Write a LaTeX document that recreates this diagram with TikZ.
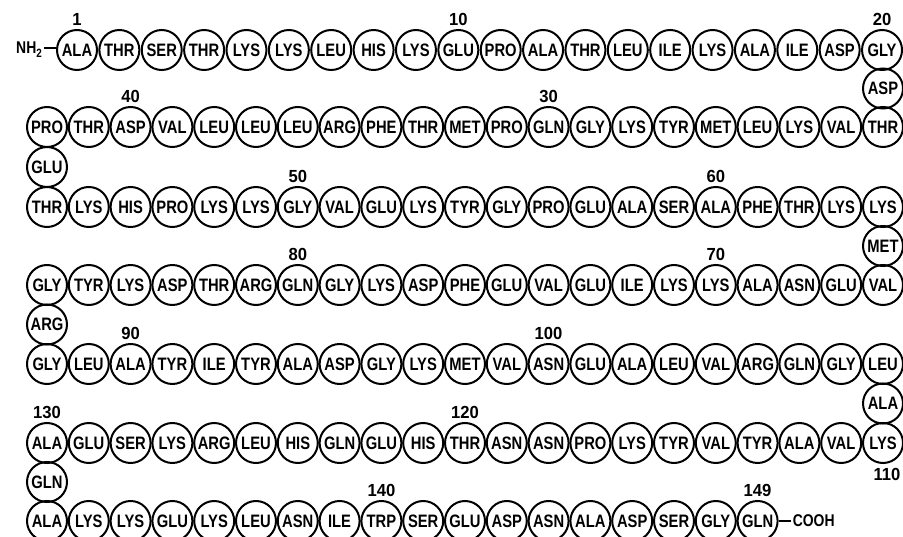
\documentclass[tikz,border=0pt]{standalone}
\usepackage{fontspec}
\setmainfont{Liberation Sans}
\newfontfamily\resfont[FakeStretch=0.82]{Liberation Sans}
\newfontfamily\numfont[FakeStretch=0.95]{Liberation Sans}
\begin{document}
\begin{tikzpicture}[x=1pt,y=-1pt,
  res/.style={circle,draw,line width=2pt,minimum size=40pt,inner sep=0pt,font=\resfont\bfseries\fontsize{18}{18}\selectfont},
  num/.style={font=\numfont\bfseries\fontsize{17.5}{18}\selectfont,inner sep=0pt},
  term/.style={font=\resfont\bfseries\fontsize{17}{17}\selectfont,inner sep=0pt}]
\useasboundingbox (0,0) rectangle (903,537);
% row 1 : residues 1-20
\foreach \n [count=\k from 0] in {ALA,THR,SER,THR,LYS,LYS,LEU,HIS,LYS,GLU,PRO,ALA,THR,LEU,ILE,LYS,ALA,ILE,ASP,GLY}{
  \pgfmathtruncatemacro\rn{1+\k}
  \node[res] (r\rn) at ({77+42.37*\k},50) {\n};}
\node[res] (r21) at (883,88.5) {ASP};
% row 2 : residues 42..22 (left to right)
\foreach \n [count=\k from 0] in {PRO,THR,ASP,VAL,LEU,LEU,LEU,ARG,PHE,THR,MET,PRO,GLN,GLY,LYS,TYR,MET,LEU,LYS,VAL,THR}{
  \pgfmathtruncatemacro\rn{42-\k}
  \node[res] (r\rn) at ({47+41.8*\k},127) {\n};}
\node[res] (r43) at (47,167) {GLU};
% row 3 : residues 44..64
\foreach \n [count=\k from 0] in {THR,LYS,HIS,PRO,LYS,LYS,GLY,VAL,GLU,LYS,TYR,GLY,PRO,GLU,ALA,SER,ALA,PHE,THR,LYS,LYS}{
  \pgfmathtruncatemacro\rn{44+\k}
  \node[res] (r\rn) at ({47+41.8*\k},207) {\n};}
\node[res] (r65) at (883,246) {MET};
% row 4 : residues 86..66
\foreach \n [count=\k from 0] in {GLY,TYR,LYS,ASP,THR,ARG,GLN,GLY,LYS,ASP,PHE,GLU,VAL,GLU,ILE,LYS,LYS,ALA,ASN,GLU,VAL}{
  \pgfmathtruncatemacro\rn{86-\k}
  \node[res] (r\rn) at ({47+41.8*\k},285) {\n};}
\node[res] (r87) at (47,324.5) {ARG};
% row 5 : residues 88..108
\foreach \n [count=\k from 0] in {GLY,LEU,ALA,TYR,ILE,TYR,ALA,ASP,GLY,LYS,MET,VAL,ASN,GLU,ALA,LEU,VAL,ARG,GLN,GLY,LEU}{
  \pgfmathtruncatemacro\rn{88+\k}
  \node[res] (r\rn) at ({47+41.8*\k},364) {\n};}
\node[res] (r109) at (883,403.5) {ALA};
% row 6 : residues 130..110
\foreach \n [count=\k from 0] in {ALA,GLU,SER,LYS,ARG,LEU,HIS,GLN,GLU,HIS,THR,ASN,ASN,PRO,LYS,TYR,VAL,TYR,ALA,VAL,LYS}{
  \pgfmathtruncatemacro\rn{130-\k}
  \node[res] (r\rn) at ({47+41.8*\k},443) {\n};}
\node[res] (r131) at (47,482) {GLN};
% row 7 : residues 132..149
\foreach \n [count=\k from 0] in {ALA,LYS,LYS,GLU,LYS,LEU,ASN,ILE,TRP,SER,GLU,ASP,ASN,ALA,ASP,SER,GLY,GLN}{
  \pgfmathtruncatemacro\rn{132+\k}
  \node[res] (r\rn) at ({47+41.8*\k},521) {\n};}
% termini
\node[term,anchor=east] (nterm) at (r1.west) {NH\raisebox{-4pt}{\fontsize{12}{12}\selectfont 2}\hspace{2pt}\rule[5pt]{12pt}{2pt}};
\node[term,anchor=west] (cterm) at (r149.east) {\rule[5pt]{12pt}{2pt}\hspace{2pt}COOH};
% numbers
\foreach \r in {1,10,20,30,40,50,60,70,80,90,100,120,130,140,149}{
  \node[num,anchor=south] (n\r) at ([yshift=3pt]r\r.north) {\r};}
\node[num,anchor=north] (n110) at ([xshift=4pt,yshift=-4pt]r110.south) {110};
\end{tikzpicture}
\end{document}
